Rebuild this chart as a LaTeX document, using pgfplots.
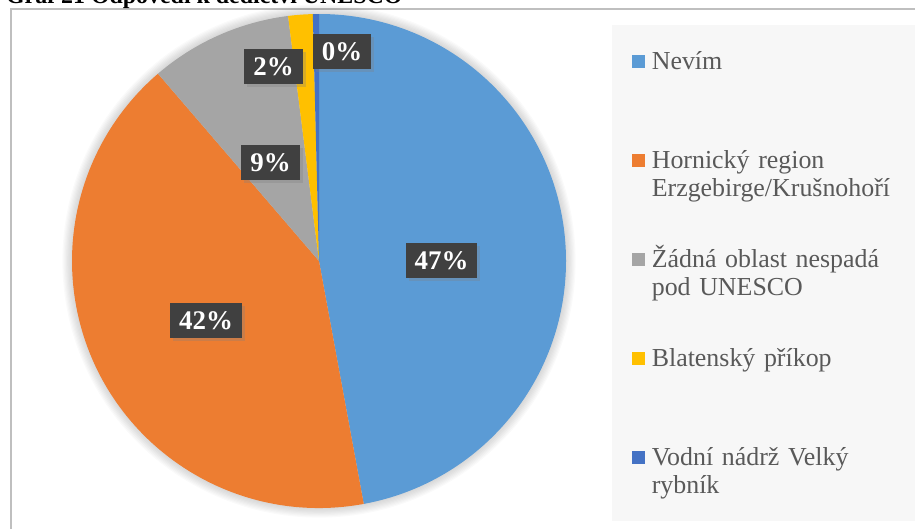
\documentclass[border=0pt]{standalone}
\usepackage{fontspec}
\setmainfont{Liberation Serif}
\usepackage{pgfplots}
\usepackage{pgfplotstable}
\pgfplotsset{compat=1.18}
\usetikzlibrary{shadows}

\definecolor{cNevim}{HTML}{5B9BD5}
\definecolor{cHornicky}{HTML}{ED7D31}
\definecolor{cZadna}{HTML}{A5A5A5}
\definecolor{cBlatensky}{HTML}{FFC000}
\definecolor{cVodni}{HTML}{4472C4}
\definecolor{legbg}{HTML}{F7F7F7}
\definecolor{legtext}{HTML}{595959}
\definecolor{lblbg}{HTML}{404040}
\definecolor{framegray}{HTML}{BFBFBF}

% podíly odpovědí v %, po směru hodinových ručiček od 12 h
\pgfplotstableread{
value color
47.1  cNevim
41.6  cHornicky
9.3   cZadna
1.6   cBlatensky
0.4   cVodni
}\piedata

\begin{document}
\begin{tikzpicture}[
  lbl/.style={fill=lblbg, text=white, font=\fontsize{13.5}{14}\selectfont\bfseries,
    minimum height=17.5bp, inner xsep=4.5bp, inner ysep=0pt,
    drop shadow={shadow xshift=1.5bp, shadow yshift=-1.5bp, opacity=0.3}}
]
\begin{axis}[
  name=ax,
  width=457.5bp, height=264.5bp, scale only axis,
  xmin=0, xmax=915, ymin=0, ymax=529, y dir=reverse,
  hide axis, clip=false,
  legend image code/.code={\fill[#1, draw=none] (0bp,0.5bp) rectangle (6.5bp,7bp); \path (9.5bp,0bp);},
  legend style={draw=none, fill=none, at={(axis cs:632,51)}, anchor=north west,
    inner sep=0pt, row sep=0pt, column sep=0pt,
    font=\fontsize{13}{14}\selectfont, text=legtext,
    cells={anchor=base west},
    nodes={text width=150bp, align=left, inner sep=0pt, text height=9bp, text depth=40.5bp}},
]
% rámeček a pozadí legendy
\draw[framegray, line width=1bp] (axis cs:11,560) -- (axis cs:11,9) -- (axis cs:940,9);
\fill[legbg] (axis cs:612,25) rectangle (axis cs:940,521);
\node[anchor=base west, font=\fontsize{12}{14}\selectfont\bfseries] at (axis cs:-1,3.5)
  {Graf 21 Odpovědi k dědictví UNESCO};

\pgfplotsextra{
  \foreach \k in {1,...,8}
    \fill[black, opacity=0.018] (axis cs:319,261) circle[radius=123.5bp+\k*0.6bp];
  \pgfplotstablegetrowsof{\piedata}
  \pgfmathtruncatemacro\lastrow{\pgfplotsretval-1}
  \gdef\cum{0}
  \foreach \i in {0,...,\lastrow}{
    \pgfplotstablegetelem{\i}{value}\of\piedata \let\val\pgfplotsretval
    \pgfplotstablegetelem{\i}{color}\of\piedata \let\slicecol\pgfplotsretval
    \pgfmathsetmacro\angA{90-3.6*\cum}
    \pgfmathsetmacro\angB{90-3.6*(\cum+\val)}
    \fill[fill=\slicecol] (axis cs:319,261) -- ++(\angA:123.5bp)
      arc[start angle=\angA, end angle=\angB, radius=123.5bp] -- cycle;
    \pgfmathsetmacro\newcum{\cum+\val}
    \xdef\cum{\newcum}
  }
}

\node[lbl] at (axis cs:441.5,260.5) {47\%};
\node[lbl] at (axis cs:206,320.5) {42\%};
\node[lbl] at (axis cs:270.5,162.5) {9\%};
\node[lbl] at (axis cs:273.5,67) {2\%};
\node[lbl] at (axis cs:342,51.5) {0\%};

\addlegendimage{fill=cNevim}
\addlegendentry{Nevím}
\addlegendimage{fill=cHornicky}
\addlegendentry{Hornický region\\Erzgebirge/Krušnohoří}
\addlegendimage{fill=cZadna}
\addlegendentry{Žádná oblast nespadá\\pod UNESCO}
\addlegendimage{fill=cBlatensky}
\addlegendentry{Blatenský příkop}
\addlegendimage{fill=cVodni}
\addlegendentry{Vodní nádrž Velký\\rybník}
\end{axis}
\pgfresetboundingbox
\useasboundingbox (ax.south west) rectangle (ax.north east);
\end{tikzpicture}
\end{document}
